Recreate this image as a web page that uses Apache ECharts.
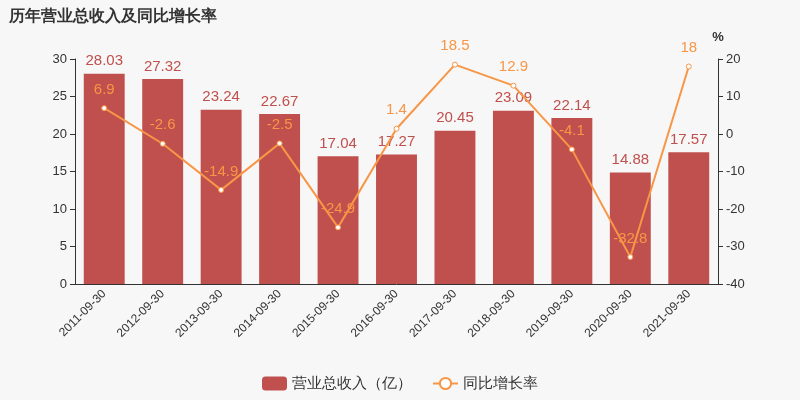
<!DOCTYPE html>
<html><head><meta charset="utf-8">
<script src="https://cdn.jsdelivr.net/npm/echarts@6/dist/echarts.min.js"></script>
<style>html,body{margin:0;background:#f7f7f7}#c{width:800px;height:400px}</style>
</head><body><div id="c"></div>
<script>
const categories=['2011-09-30','2012-09-30','2013-09-30','2014-09-30','2015-09-30','2016-09-30','2017-09-30','2018-09-30','2019-09-30','2020-09-30','2021-09-30'];
const revenue=[28.03,27.32,23.24,22.67,17.04,17.27,20.45,23.09,22.14,14.88,17.57];
const growth=[6.9,-2.6,-14.9,-2.5,-24.9,1.4,18.5,12.9,-4.1,-32.8,18];
const chart=echarts.init(document.getElementById('c'));
chart.setOption({
backgroundColor:'#f7f7f7',
title:{text:'历年营业总收入及同比增长率',left:4,top:4,textStyle:{fontSize:16,fontWeight:'bold',color:'#333'}},
grid:{left:75,right:82,top:59,bottom:116},
legend:{bottom:4,itemGap:20,textStyle:{fontSize:15,color:'#333'},data:['营业总收入（亿）','同比增长率']},
xAxis:{type:'category',data:categories,axisLabel:{rotate:45,color:'#333',fontSize:12,interval:0},axisTick:{alignWithLabel:true},axisLine:{lineStyle:{color:'#333'}}},
yAxis:[
{type:'value',min:0,max:30,interval:5,splitLine:{show:false},axisLine:{show:true,lineStyle:{color:'#333'}},axisTick:{show:true},axisLabel:{color:'#333',fontSize:13}},
{type:'value',name:'%',min:-40,max:20,interval:10,splitLine:{show:false},nameTextStyle:{color:'#333',fontWeight:'bold',fontSize:13},axisLine:{show:true,lineStyle:{color:'#333'}},axisTick:{show:true},axisLabel:{color:'#333',fontSize:13}}
],
series:[
{name:'营业总收入（亿）',type:'bar',data:revenue,barWidth:'70%',itemStyle:{color:'#c0504d'},label:{show:true,position:'top',color:'#c0504d',fontSize:15}},
{name:'同比增长率',type:'line',yAxisIndex:1,data:growth,symbol:'circle',symbolSize:5,itemStyle:{color:'#fff',borderColor:'#f79646',borderWidth:1},lineStyle:{color:'#f79646',width:2},label:{show:true,position:'top',color:'#f79646',fontSize:15,distance:8}}
]});
</script></body></html>
